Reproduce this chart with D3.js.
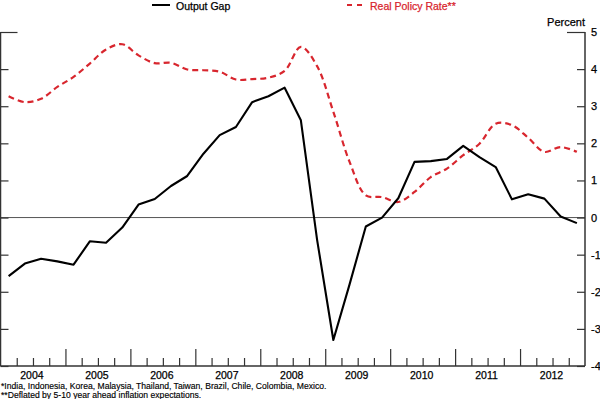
<!DOCTYPE html>
<html>
<head>
<meta charset="utf-8">
<script src="https://cdn.jsdelivr.net/npm/d3@7"></script>
<style>
  body { margin: 0; background: #fff; }
  svg { display: block; font-family: "Liberation Sans", Arial, sans-serif; }
  svg text { stroke-width: 0.25px; }
</style>
</head>
<body>
<svg id="chart" width="600" height="399"></svg>
<script>
// data, quarterly 2004Q1..2012Q4
const years = [2004, 2005, 2006, 2007, 2008, 2009, 2010, 2011, 2012];
const outputGap = [
  -1.58, -1.24, -1.11, -1.18, -1.27, -0.64, -0.68, -0.27,
  0.35, 0.50, 0.85, 1.12, 1.72, 2.22, 2.44, 3.11,
  3.27, 3.50, 2.62, -0.60, -3.30, -1.80, -0.24, 0.00,
  0.52, 1.50, 1.52, 1.58, 1.93, 1.63, 1.36, 0.49,
  0.63, 0.51, 0.03, -0.15
];
const realPolicyRate = [
  3.27, 3.11, 3.20, 3.52, 3.79, 4.15, 4.53, 4.67,
  4.37, 4.16, 4.17, 3.99, 3.97, 3.93, 3.72, 3.73,
  3.77, 3.95, 4.60, 4.08, 2.85, 1.50, 0.60, 0.55,
  0.42, 0.69, 1.09, 1.32, 1.68, 1.99, 2.53, 2.49,
  2.15, 1.77, 1.90, 1.77
];
const yTicks = [-4, -3, -2, -1, 0, 1, 2, 3, 4, 5];
const footnotes = [
  '*India, Indonesia, Korea, Malaysia, Thailand, Taiwan, Brazil, Chile, Colombia, Mexico.',
  '**Deflated by 5-10 year ahead inflation expectations.'
];

const quarters = years.flatMap(y => [1, 2, 3, 4].map(q => ({ year: y, q: q })));
const qTime = d => d.year + (d.q - 0.5) / 4;

const svg = d3.select('#chart');
const m = { left: 0.5, right: 585, top: 32, bottom: 366 };

const x = d3.scaleLinear().domain([2004, 2013]).range([m.left, m.right]);
const y = d3.scaleLinear().domain([-4, 5]).range([m.bottom, m.top]);

const axisColor = '#333';
const textColor = '#000';

// zero line
svg.append('line')
  .attr('x1', x(2004)).attr('x2', x(2013))
  .attr('y1', y(0)).attr('y2', y(0))
  .attr('stroke', '#555').attr('stroke-width', 1);

// left axis, no labels
const gl = svg.append('g')
  .attr('transform', `translate(${m.left},0)`)
  .call(d3.axisLeft(y).tickValues(yTicks).tickSize(-8).tickFormat(''));

// right axis with labels (plain hyphen for negatives)
const gr = svg.append('g')
  .attr('transform', `translate(${m.right},0)`)
  .call(d3.axisRight(y).tickValues(yTicks).tickSize(-8).tickPadding(6).tickFormat(d => String(d)));

// bottom axis: quarter ticks and year ticks
const quarterTicks = d3.range(2004, 2013.01, 0.25).filter(v => v % 1 !== 0);
const gq = svg.append('g')
  .attr('transform', `translate(0,${m.bottom})`)
  .call(d3.axisBottom(x).tickValues(quarterTicks).tickSize(-8).tickFormat(''));
const gy = svg.append('g')
  .attr('transform', `translate(0,${m.bottom})`)
  .call(d3.axisBottom(x).tickValues(years.slice(1)).tickSize(-17).tickFormat(''));

[gl, gr, gq, gy].forEach(g => {
  g.select('.domain').attr('stroke', axisColor).attr('stroke-width', 1.5);
  g.selectAll('.tick line').attr('stroke', axisColor).attr('stroke-width', 1.2);
  g.selectAll('text').attr('fill', textColor).attr('stroke', textColor)
    .style('font-size', '11px').style('font-family', '"Liberation Sans", Arial, sans-serif');
});
gl.select('.domain').attr('d', `M0,${m.top}V${m.bottom}`);
gr.select('.domain').attr('d', `M0,${m.top}V${m.bottom}`);
gq.select('.domain').attr('d', `M${x(2004)},0H${x(2013)}`);
gy.select('.domain').remove();

// top tick longer on both sides
gl.selectAll('.tick').filter(d => d === 5).select('line').attr('x2', 17);
gr.selectAll('.tick').filter(d => d === 5).select('line').attr('x2', -18);

// year labels centred in each year
svg.append('g').selectAll('text')
  .data(years)
  .join('text')
  .attr('x', d => x(d + 0.5) - 1)
  .attr('y', 379)
  .attr('text-anchor', 'middle')
  .style('font-size', '10.5px')
  .attr('fill', textColor).attr('stroke', textColor)
  .text(d => d);

svg.append('text')
  .attr('x', m.right).attr('y', 26)
  .attr('text-anchor', 'end')
  .style('font-size', '11px')
  .attr('fill', textColor).attr('stroke', textColor)
  .text('Percent');

// series
const red = '#d8262e';
const lineGap = d3.line().x(d => x(qTime(d.t))).y(d => y(d.v));
const lineRate = d3.line().curve(d3.curveCatmullRom.alpha(0.5)).x(d => x(qTime(d.t))).y(d => y(d.v));

svg.append('path')
  .datum(quarters.map((t, i) => ({ t: t, v: realPolicyRate[i] })))
  .attr('fill', 'none')
  .attr('stroke', red)
  .attr('stroke-width', 2.2)
  .attr('stroke-dasharray', '6,4')
  .attr('d', lineRate);

svg.append('path')
  .datum(quarters.map((t, i) => ({ t: t, v: outputGap[i] })))
  .attr('fill', 'none')
  .attr('stroke', '#000')
  .attr('stroke-width', 2.1)
  .attr('stroke-linejoin', 'round')
  .attr('d', lineGap);

// legend
const legend = svg.append('g');
legend.append('line')
  .attr('x1', 152).attr('x2', 170).attr('y1', 5).attr('y2', 5)
  .attr('stroke', '#000').attr('stroke-width', 2);
legend.append('text')
  .attr('x', 176).attr('y', 9.5)
  .style('font-size', '10.5px').attr('fill', textColor).attr('stroke', textColor)
  .text('Output Gap');
legend.append('line')
  .attr('x1', 347).attr('x2', 363).attr('y1', 5).attr('y2', 5)
  .attr('stroke', red).attr('stroke-width', 2.2)
  .attr('stroke-dasharray', '5,5');
legend.append('text')
  .attr('x', 370).attr('y', 9.5)
  .style('font-size', '10.5px').attr('fill', red).attr('stroke', red)
  .text('Real Policy Rate**');

// footnotes
svg.append('g').selectAll('text')
  .data(footnotes)
  .join('text')
  .attr('x', 1)
  .attr('y', (d, i) => 388.5 + i * 9)
  .style('font-size', '8.6px')
  .attr('fill', textColor).attr('stroke', textColor)
  .style('stroke-width', '0.15px')
  .text(d => d);
</script>
</body>
</html>
